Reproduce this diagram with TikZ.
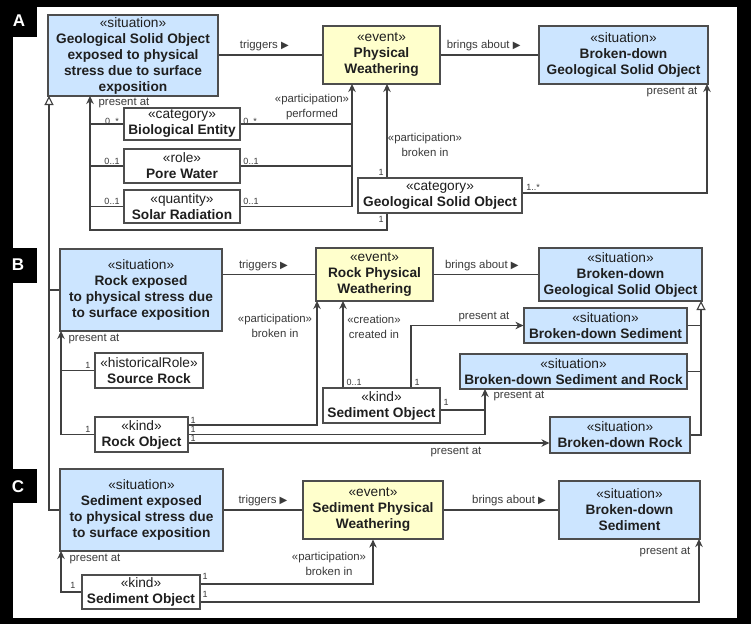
\documentclass[tikz,border=0pt]{standalone}
\usepackage{fontspec}
\setmainfont{Liberation Sans}
\newfontfamily\symf{DejaVu Sans}
\usetikzlibrary{arrows.meta}
\definecolor{sitfill}{HTML}{CCE5FF}
\definecolor{evtfill}{HTML}{FFFFCC}
\definecolor{bordercol}{HTML}{4D4D4D}
\definecolor{linecol}{HTML}{404040}
\definecolor{txtcol}{HTML}{1F1F1F}
\definecolor{labcol}{HTML}{3A3A3A}
\newcommand\boxfont{\fontsize{13.7}{16}\selectfont}
\newcommand\labfont{\fontsize{11.4}{14.5}\selectfont}
\newcommand\multfont{\fontsize{9}{10}\selectfont}
\newcommand\trimark{{\symf\fontsize{10}{8}\selectfont ▶}}
\newcommand\ubox[7]{\node[#6, minimum width={#4-#2}, minimum height={#5-#3}] (#1) at ({(#2+#4)/2},{(#3+#5)/2}) {#7};}
\begin{document}
\begin{tikzpicture}[x=1pt,y=-1pt,
  base/.style={draw=bordercol, line width=1.2pt, inner sep=0pt, align=center, text=txtcol, font=\boxfont},
  sit/.style={base, fill=sitfill},
  evt/.style={base, fill=evtfill},
  cls/.style={base, fill=white},
  conn/.style={draw=linecol, line width=1.1pt},
  arr/.style={conn, -{Stealth[length=8pt,width=7.5pt]}},
  gen/.style={conn, -{Triangle[open,length=9pt,width=9pt]}},
  lab/.style={font=\labfont, text=labcol, inner sep=1pt, align=center},
  mult/.style={font=\multfont, text=labcol, inner sep=0pt},
  tab/.style={font=\fontsize{17}{17}\selectfont\bfseries, text=white, inner sep=0pt}]
\useasboundingbox (0,0) rectangle (751,624);
\fill[black] (0,0) rectangle (751,624);
\fill[white] (13,7) rectangle (737,618);
\fill[black] (0,0) rectangle (37,37);
\fill[black] (0,248) rectangle (37,283);
\fill[black] (0,469) rectangle (37,503);
\node[tab] (tA) at (19,21) {A};
\node[tab] (tB) at (18,265) {B};
\node[tab] (tC) at (18,487) {C};

% ---------- boxes A
\ubox{A1}{48}{15}{218}{96}{sit}{«situation»\\\textbf{Geological Solid Object}\\\textbf{exposed to physical}\\\textbf{stress due to surface}\\\textbf{exposition}}
\ubox{EA}{323}{26}{440}{84}{evt}{«event»\\\textbf{Physical}\\\textbf{Weathering}}
\ubox{BA}{539}{26}{708}{84}{sit}{«situation»\\\textbf{Broken-down}\\\textbf{Geological Solid Object}}
\ubox{Bio}{124}{108}{240}{140}{cls}{«category»\\\textbf{Biological Entity}}
\ubox{Pore}{124}{149}{240}{183}{cls}{«role»\\\textbf{Pore Water}}
\ubox{Solar}{124}{190}{240}{223}{cls}{«quantity»\\\textbf{Solar Radiation}}
\ubox{GSO}{358}{178}{522}{213}{cls}{«category»\\\textbf{Geological Solid Object}}
% ---------- boxes B
\ubox{B1}{60}{249}{222}{331}{sit}{«situation»\\\textbf{Rock exposed}\\\textbf{to physical stress due}\\\textbf{to surface exposition}}
\ubox{EB}{316}{248}{433}{301}{evt}{«event»\\\textbf{Rock Physical}\\\textbf{Weathering}}
\ubox{BB}{539}{248}{702}{301}{sit}{«situation»\\\textbf{Broken-down}\\\textbf{Geological Solid Object}}
\ubox{BDS}{524}{308}{687}{343}{sit}{«situation»\\\textbf{Broken-down Sediment}}
\ubox{BDSR}{460}{354}{687}{389}{sit}{«situation»\\\textbf{Broken-down Sediment and Rock}}
\ubox{BDR}{550}{417}{690}{453}{sit}{«situation»\\\textbf{Broken-down Rock}}
\ubox{SrcR}{95}{353}{203}{388}{cls}{«historicalRole»\\\textbf{Source Rock}}
\ubox{RockO}{95}{417}{188}{452}{cls}{«kind»\\\textbf{Rock Object}}
\ubox{SedB}{323}{388}{440}{423}{cls}{«kind»\\\textbf{Sediment Object}}
% ---------- boxes C
\ubox{C1}{60}{469}{223}{551}{sit}{«situation»\\\textbf{Sediment exposed}\\\textbf{to physical stress due}\\\textbf{to surface exposition}}
\ubox{EC}{303}{481}{443}{539}{evt}{«event»\\\textbf{Sediment Physical}\\\textbf{Weathering}}
\ubox{BC}{559}{481}{700}{539}{sit}{«situation»\\\textbf{Broken-down}\\\textbf{Sediment}}
\ubox{SedC}{82}{575}{200}{609}{cls}{«kind»\\\textbf{Sediment Object}}

% ---------- junction coordinates
\coordinate (jPP) at (352,84);
\coordinate (jGB) at (387,84);
\coordinate (jPA) at (90,96);
\coordinate (jPAb) at (90,230);
\coordinate (jBA) at (707,84);
\coordinate (jGA) at (49,96);
\coordinate (jGB2) at (701,301);
\coordinate (jPB) at (61,331);
\coordinate (jRB) at (317,301);
\coordinate (jCr) at (343,301);
\coordinate (jSR) at (485,389);
\coordinate (jSx) at (411,326);
\coordinate (jPC) at (61,551);
\coordinate (jBC) at (699,539);

% ---------- connectors A
\draw[conn] (A1.east |- EA.west) -- node[lab,above=2.5pt,pos=0.44] (lt1) {triggers \trimark} (EA.west);
\draw[conn] (EA.east) -- node[lab,above=2.5pt,pos=0.44] (lb1) {brings about \trimark} (BA.west);
\draw[arr] (Solar.east) -| (jPP);
\draw[conn] (Bio.east) -- (Bio.east -| jPP);
\draw[conn] (Pore.east) -- (Pore.east -| jPP);
\draw[arr] (jGB |- GSO.north) -- (jGB);
\draw[arr] ([yshift=2.5pt]GSO.east) -| (jBA);
\draw[arr] (jGB |- GSO.south) |- (jPAb) -- (jPA);
\draw[conn] (Bio.west) -- (Bio.west -| jPA);
\draw[conn] (Pore.west) -- (Pore.west -| jPA);
\draw[conn] (Solar.west) -- (Solar.west -| jPA);
\draw[gen] (C1.west) -| (jGA);
\draw[conn] (B1.west) -- (B1.west -| jGA);

\node[lab] (lpp) at (312,107) {«participation»\\performed};
\node[lab] (lgbA) at (425,145) {«participation»\\broken in};
\node[lab] (lpaA) at (124,103) {present at};
\node[lab] (lpaBA) at (672,92) {present at};
\node[mult] (m1) at (112,121) {0..*};
\node[mult] (m2) at (250,121) {0..*};
\node[mult] (m3) at (112,161) {0..1};
\node[mult] (m4) at (251,161) {0..1};
\node[mult] (m5) at (112,201) {0..1};
\node[mult] (m6) at (251,201) {0..1};
\node[mult] (m7) at (381,172) {1};
\node[mult] (m8) at (381,219) {1};
\node[mult] (m9) at (533,187) {1..*};

% ---------- connectors B
\draw[conn] (B1.east |- EB.west) -- node[lab,above=2.5pt,pos=0.44] (lt2) {triggers \trimark} (EB.west);
\draw[conn] (EB.east) -- node[lab,above=2.5pt,pos=0.46] (lb2) {brings about \trimark} (BB.west);
\draw[gen] (BDR.east) -| (jGB2);
\draw[conn] (BDS.east) -- (BDS.east -| jGB2);
\draw[conn] (BDSR.east) -- (BDSR.east -| jGB2);
\draw[arr] (RockO.west) -| (jPB);
\draw[conn] (SrcR.west) -- (SrcR.west -| jPB);
\draw[arr] ([yshift=9.5pt]RockO.east) -| (jRB);
\draw[arr] (RockO.east) -| (jSR);
\draw[arr] ([yshift=-8.5pt]RockO.east) -- ([yshift=-8.5pt]RockO.east -| BDR.west);
\draw[arr] (jCr |- SedB.north) -- (jCr);
\draw[arr] (jSx |- SedB.north) |- (BDS.west);
\draw[conn] ([yshift=-4.5pt]SedB.east) -- ([yshift=-4.5pt]SedB.east -| jSR);

\node[lab] (lpaB) at (94,339) {present at};
\node[mult] (n1) at (88,365) {1};
\node[mult] (n2) at (88,429) {1};
\node[mult] (n3) at (193,420) {1};
\node[mult] (n4) at (193,429) {1};
\node[mult] (n5) at (193,438) {1};
\node[lab] (lgbB) at (275,326) {«participation»\\broken in};
\node[lab] (lcr) at (374,327) {«creation»\\created in};
\node[mult] (n6) at (354,382) {0..1};
\node[mult] (n7) at (417,382) {1};
\node[mult] (n8) at (446,402) {1};
\node[lab] (lpaS) at (484,317) {present at};
\node[lab] (lpaSR) at (519,396) {present at};
\node[lab] (lpaR) at (456,452) {present at};

% ---------- connectors C
\draw[conn] (C1.east) -- node[lab,above=2.5pt,pos=0.5] (lt3) {triggers \trimark} (EC.west);
\draw[conn] (EC.east) -- node[lab,above=2.5pt,pos=0.57] (lb3) {brings about \trimark} (BC.west);
\draw[arr] (SedC.west) -| (jPC);
\draw[arr] ([yshift=8pt]SedC.east) -| (EC.south);
\draw[arr] ([yshift=-10pt]SedC.east) -| (jBC);

\node[lab] (lpaC) at (95,559) {present at};
\node[mult] (k1) at (73,585) {1};
\node[mult] (k2) at (205,576) {1};
\node[mult] (k3) at (205,594) {1};
\node[lab] (lgbC) at (329,564) {«participation»\\broken in};
\node[lab] (lpaBC) at (665,552) {present at};
\end{tikzpicture}
\end{document}
